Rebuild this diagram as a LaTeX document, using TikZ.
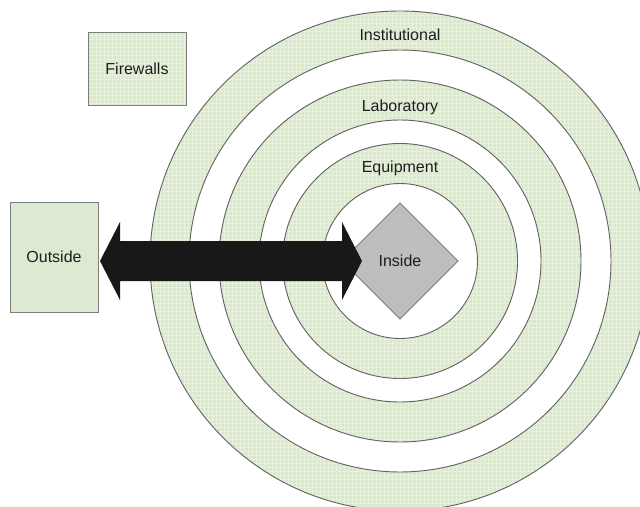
\documentclass[tikz,border=0pt]{standalone}
\usepackage{fontspec}
\setmainfont{Liberation Sans}
\usetikzlibrary{shapes.geometric,calc,patterns}
\definecolor{bandgreen}{RGB}{218,233,205}
\definecolor{bandlight}{RGB}{231,241,222}
\definecolor{boxgreen}{RGB}{219,234,208}
\definecolor{ringline}{RGB}{100,100,100}
\definecolor{boxline}{RGB}{125,125,125}
\definecolor{diamondgray}{RGB}{190,190,192}
\definecolor{arrowblack}{RGB}{24,24,24}
\definecolor{labeltext}{RGB}{30,30,30}
\begin{document}
\begin{tikzpicture}[x=0.75pt,y=-0.75pt,
  ring/.style={draw=ringline,line width=0.7pt},
  gridfill/.style={preaction={fill=bandgreen},pattern=grid,pattern color=bandlight},
  greenband/.style={ring,gridfill},
  gapband/.style={ring,fill=white},
  txt/.style={font=\fontsize{12}{14}\selectfont,text=labeltext},
  ringlabel/.style={txt,anchor=base,inner sep=0pt},
  zonebox/.style={txt,draw=boxline,line width=0.6pt,inner sep=0pt,outer sep=0pt},
  core/.style={txt,diamond,draw=boxline,fill=diamondgray,line width=0.6pt,
    inner sep=0pt,outer sep=0pt,minimum size=87pt},
  bigarrow/.style={fill=arrowblack}]
  % canvas
  \fill[white] (0,0) rectangle (640,507);
  \useasboundingbox (0,0) rectangle (640,507);
  \clip (0,0) rectangle (640,507);

  % concentric security zones
  \coordinate (c) at (400,261);
  \draw[greenband] (c) circle (250);
  \draw[gapband]   (c) circle (211);
  \draw[greenband] (c) circle (181);
  \draw[gapband]   (c) circle (141);
  \draw[greenband] (c) circle (117.5);
  \draw[gapband]   (c) circle (77.5);

  % zone names
  \node[ringlabel] (inst)  at (400,40.5) {Institutional};
  \node[ringlabel] (lab)   at (400,111)  {Laboratory};
  \node[ringlabel] (equip) at (400,172)  {Equipment};

  % core, outside world and legend box
  \node[core] (ins) at (c) {Inside};
  \node[zonebox,fill=boxgreen,minimum width=66pt,minimum height=82.5pt]
    (out) at (54,257) {Outside};
  \node[zonebox,gridfill,minimum width=73.5pt,minimum height=54.75pt]
    (fw) at (137,68.5) {Firewalls};

  % two-headed link between outside and inside
  \coordinate (tipL) at ($(out.east |- c)+(2,0)$);
  \coordinate (tipR) at ($(ins.west)+(20,0)$);
  \fill[bigarrow] (tipL) -- ++(20,-39) -- ++(0,19)
    -- ($(tipR)+(-20,-20)$) -- ++(0,-19) -- (tipR)
    -- ++(-20,39) -- ++(0,-19)
    -- ($(tipL)+(20,20)$) -- ++(0,19) -- cycle;
\end{tikzpicture}
\end{document}
